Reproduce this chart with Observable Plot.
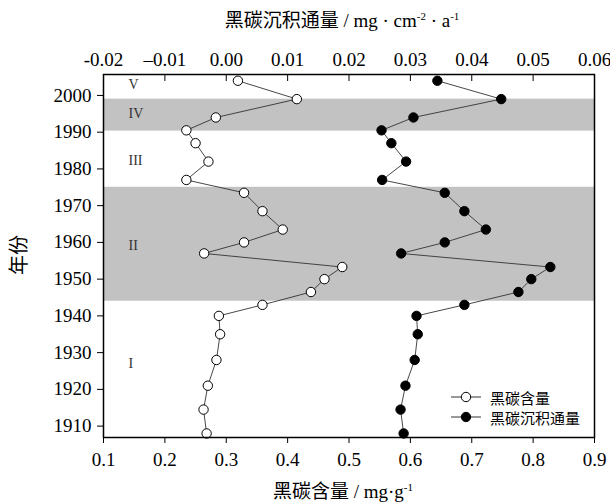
<!DOCTYPE html>
<html><head><meta charset="utf-8">
<script src="https://cdn.jsdelivr.net/npm/d3@7"></script>
<script src="https://cdn.jsdelivr.net/npm/@observablehq/plot@0.6"></script>
<style>
body{margin:0;background:#fff;}
#wrap{position:relative;width:610px;height:504px;font-family:"Liberation Serif","Noto Sans CJK SC",serif;color:#000;overflow:hidden;}
#wrap svg.plotlayer{position:absolute;left:0;top:0;}
.ttl{position:absolute;white-space:nowrap;font-size:19px;line-height:1;transform:translate(-50%,-50%);}
.ttl sup{font-size:11px;vertical-align:7px;line-height:0;}
.legend{position:absolute;left:450px;top:387px;font-size:15px;}
.legend .row{display:flex;align-items:center;height:20px;}
.legend svg{margin-right:8px;}
</style></head><body><div id="wrap"></div>
<script>
// ---- data ----
const years   = [2004, 1999, 1994, 1990.5, 1987, 1982, 1977, 1973.5, 1968.5, 1963.5, 1960, 1957, 1953.3, 1950, 1946.5, 1943, 1940, 1935, 1928, 1921, 1914.5, 1908];
const content = [0.319, 0.415, 0.283, 0.235, 0.250, 0.271, 0.235, 0.329, 0.359, 0.392, 0.329, 0.264, 0.489, 0.460, 0.438, 0.359, 0.288, 0.290, 0.284, 0.270, 0.263, 0.268];
const flux    = [0.0344, 0.0448, 0.0305, 0.0253, 0.0269, 0.0293, 0.0254, 0.0356, 0.0388, 0.0423, 0.0356, 0.0285, 0.0528, 0.0497, 0.0476, 0.0388, 0.0310, 0.0312, 0.0307, 0.0292, 0.0284, 0.0289];
const bandStart = [1944, 1990.3];
const bandEnd   = [1975, 1999];
const periodLabels = ["V", "IV", "III", "II", "I"];
const periodYears  = [2003, 1995.1, 1982.3, 1959.2, 1927.1];
const bottomTicks = [0.1, 0.2, 0.3, 0.4, 0.5, 0.6, 0.7, 0.8, 0.9];
const bottomTickLabels = ["0.1","0.2","0.3","0.4","0.5","0.6","0.7","0.8","0.9"];
const topTicks = [-0.02, -0.01, 0, 0.01, 0.02, 0.03, 0.04, 0.05, 0.06];
const topTickLabels = ["-0.02","\u20130.01","0.00","0.01","0.02","0.03","0.04","0.05","0.06"];
const yTicks = [1910, 1920, 1930, 1940, 1950, 1960, 1970, 1980, 1990, 2000];
const seriesNames = ["黑碳含量", "黑碳沉积通量"];

const rows = years.map((y, i) => ({year: y, content: content[i], flux: flux[i]}));
const bands = bandStart.map((s, i) => ({y1: s, y2: bandEnd[i]}));
const periods = periodLabels.map((t, i) => ({label: t, year: periodYears[i]}));

const W = 610, H = 504;
const margins = {marginTop: 74, marginBottom: 67, marginLeft: 103, marginRight: 16};
const yDomain = [1906.9, 2005.7];
const font = '"Liberation Serif","Noto Sans CJK SC",serif';

const p1 = Plot.plot({
  width: W, height: H, ...margins,
  style: {fontFamily: font, fontSize: "19px", background: "transparent", color: "#000"},
  x: {domain: [0.1, 0.9]},
  y: {domain: yDomain},
  marks: [
    Plot.rect(bands, {y1: "y1", y2: "y2", fill: "#c2c2c2"}),
    Plot.axisX({ticks: bottomTicks, tickFormat: (d, i) => bottomTickLabels[i], tickSize: 6, tickPadding: 9, label: null, fontSize: 19}),
    Plot.axisY({ticks: yTicks, tickFormat: d => String(d), tickSize: 6, tickPadding: 6, label: null, fontSize: 19}),
    Plot.line(rows, {x: "content", y: "year", stroke: "#333", strokeWidth: 0.9}),
    Plot.dot(rows, {x: "content", y: "year", r: 4.7, fill: "#fff", stroke: "#000", strokeWidth: 1}),
    Plot.text(periods, {y: "year", text: "label", frameAnchor: "left", dx: 25, fontSize: 14, fill: "#333"}),
    Plot.frame({stroke: "#000", strokeWidth: 1.5})
  ]
});
p1.classList.add("plotlayer");

const p2 = Plot.plot({
  width: W, height: H, ...margins,
  style: {fontFamily: font, fontSize: "19px", background: "transparent", color: "#000"},
  x: {domain: [-0.02, 0.06]},
  y: {domain: yDomain, axis: null},
  marks: [
    Plot.axisX({anchor: "top", ticks: topTicks, tickFormat: (d, i) => topTickLabels[i], tickSize: -6, tickPadding: 15, label: null, fontSize: 19}),
    Plot.line(rows, {x: "flux", y: "year", stroke: "#333", strokeWidth: 0.9}),
    Plot.dot(rows, {x: "flux", y: "year", r: 4.7, fill: "#000", stroke: "#000", strokeWidth: 1})
  ]
});
p2.classList.add("plotlayer");

const wrap = document.getElementById("wrap");
wrap.appendChild(p1);
wrap.appendChild(p2);

function addDiv(html, cls, x, y, extra) {
  const d = document.createElement("div");
  d.className = cls; d.innerHTML = html;
  d.style.left = x + "px"; d.style.top = y + "px";
  if (extra) Object.assign(d.style, extra);
  wrap.appendChild(d);
}
addDiv('黑碳沉积通量 / mg · cm<sup>-2</sup> · a<sup>-1</sup>', "ttl", 342, 20);
addDiv('黑碳含量 / mg·g<sup>-1</sup>', "ttl", 343, 491);
addDiv('年份', "ttl", 19, 255, {transform: "translate(-50%,-50%) rotate(-90deg)", fontSize: "20px"});

const leg = document.createElement("div");
leg.className = "legend";
seriesNames.forEach((name, i) => {
  const r = document.createElement("div");
  r.className = "row";
  r.innerHTML = `<svg width="32" height="12"><line x1="1" y1="6" x2="31" y2="6" stroke="#333" stroke-width="1"/><circle cx="16" cy="6" r="4.7" fill="${i ? "#000" : "#fff"}" stroke="#000"/></svg><span>${name}</span>`;
  leg.appendChild(r);
});
wrap.appendChild(leg);
</script>
</body></html>
